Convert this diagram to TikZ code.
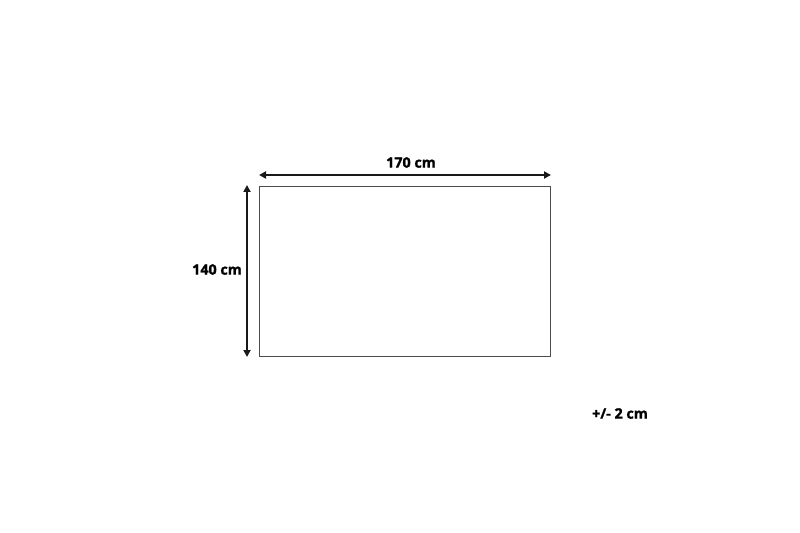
\documentclass[tikz,border=0pt]{standalone}
\usepackage{fontspec}
\setmainfont{Open Sans}[BoldFont={Open Sans Bold},BoldFeatures={FakeBold=1.5}]
\usetikzlibrary{arrows.meta}
\begin{document}
\begin{tikzpicture}[x=1bp,y=-1bp,
  lbl/.style={font=\bfseries\fontsize{14.3bp}{17bp}\selectfont, inner sep=0pt},
  dim/.style={line width=1.8bp, draw=black!90, {Triangle[length=7bp,width=7bp]}-{Triangle[length=7bp,width=7bp]}}]
\useasboundingbox (0,0) rectangle (800,533);
\node[draw=black!70, line width=0.9bp, minimum width=291bp, minimum height=170bp, inner sep=0pt] (rug) at (404.5,271) {};
\coordinate (hl) at (259,175);
\coordinate (hr) at (551,175);
\coordinate (vt) at (247,185);
\coordinate (vb) at (247,357);
\draw[dim] (hl) -- (hr);
\draw[dim] (vt) -- (vb);
\node[lbl] (w) at (411,162.5) {170 cm};
\node[lbl] (h) at (217,269.5) {140 cm};
\node[lbl] (tol) at (620,413.5) {+/- 2 cm};
\end{tikzpicture}
\end{document}
